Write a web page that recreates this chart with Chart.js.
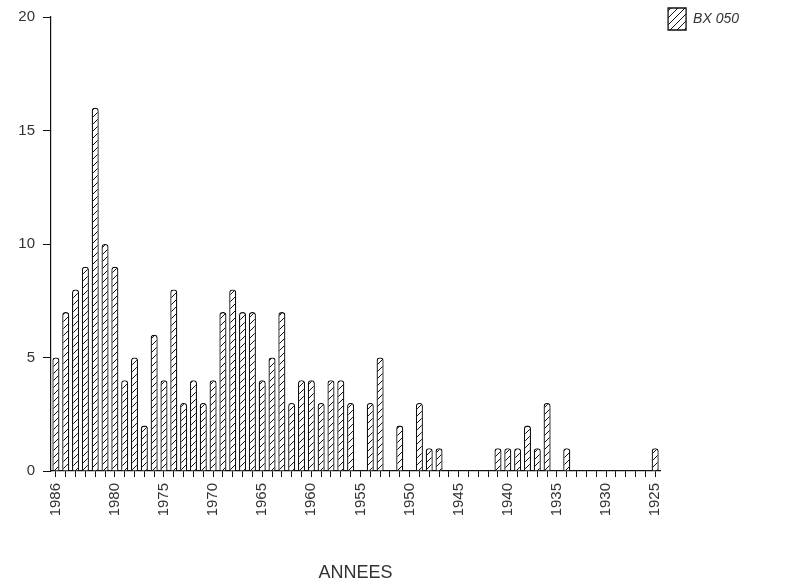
<!DOCTYPE html>
<html>
<head>
<meta charset="utf-8">
<script src="https://cdn.jsdelivr.net/npm/chart.js@4.4.1/dist/chart.umd.min.js"></script>
<style>
  html, body { margin: 0; padding: 0; background: #fff; }
  #wrap { width: 804px; height: 588px; }
</style>
</head>
<body>
<div id="wrap"><canvas id="c" width="804" height="588"></canvas></div>
<script>
// Years, most recent first (as in the original axis)
const years = ['1986','1985','1984','1983','1982','1981','1980','1979','1978','1977',
               '1976','1975','1974','1973','1972','1971','1970','1969','1968','1967',
               '1966','1965','1964','1963','1962','1961','1960','1959','1958','1957',
               '1956','1955','1954','1953','1952','1951','1950','1949','1948','1947',
               '1946','1945','1944','1943','1942','1941','1940','1939','1938','1937',
               '1936','1935','1934','1933','1932','1931','1930','1929','1928','1927',
               '1926','1925'];
const bx050 = [5,7,8,9,16,10,9,4,5,2,
               6,4,8,3,4,3,4,7,8,7,
               7,4,5,7,3,4,4,3,4,4,
               3,0,3,5,0,2,0,3,1,1,
               0,0,0,0,0,1,1,1,2,1,
               3,0,1,0,0,0,0,0,0,0,
               0,1];
const xTickLabels = ['1986','1980','1975','1970','1965','1960','1955','1950','1945','1940','1935','1930','1925'];
const yTicks = [0,5,10,15,20];
const seriesName = 'BX 050';
const axisTitle = 'ANNEES';

function hatch() {
  const s = 7;
  const p = document.createElement('canvas');
  p.width = s; p.height = s;
  const g = p.getContext('2d');
  g.fillStyle = '#ffffff';
  g.fillRect(0, 0, s, s);
  g.strokeStyle = '#111';
  g.lineWidth = 1;
  g.beginPath();
  g.moveTo(0, s); g.lineTo(s, 0);
  g.moveTo(-1, 1); g.lineTo(1, -1);
  g.moveTo(s - 1, s + 1); g.lineTo(s + 1, s - 1);
  g.stroke();
  return g.createPattern(p, 'repeat');
}
const pat = hatch();

const font = "'Liberation Sans', Arial, sans-serif";

// place the legend block at the very top of its (right-hand) column
const legendToTop = {
  id: 'legendToTop',
  afterLayout(chart) {
    const l = chart.legend;
    if (l) { const h = l.bottom - l.top; l.top = 0; l.bottom = h; }
  }
};

new Chart(document.getElementById('c'), {
  type: 'bar',
  data: {
    labels: years,
    datasets: [{
      label: seriesName,
      data: bx050,
      backgroundColor: pat,
      borderColor: '#111',
      borderWidth: 1.3,
      borderRadius: { topLeft: 3, topRight: 3, bottomLeft: 0, bottomRight: 0 },
      borderSkipped: 'bottom',
      categoryPercentage: 1.0,
      barPercentage: 0.72
    }]
  },
  plugins: [legendToTop],
  options: {
    responsive: false,
    animation: false,
    devicePixelRatio: 1,
    layout: { padding: { top: 13, right: 55, bottom: 0, left: 0 } },
    plugins: {
      tooltip: { enabled: false },
      legend: {
        position: 'right',
        align: 'start',
        labels: {
          boxWidth: 18,
          boxHeight: 22,
          padding: 8,
          color: '#333',
          font: { family: font, size: 14, style: 'italic' }
        }
      }
    },
    scales: {
      x: {
        offset: true,
        border: { display: true, color: '#111', width: 1.2 },
        grid: { display: true, drawOnChartArea: false, drawTicks: true, tickLength: 6, color: '#111', offset: false },
        ticks: {
          autoSkip: false,
          minRotation: 90,
          maxRotation: 90,
          padding: 6,
          color: '#333',
          font: { family: font, size: 15 },
          callback: function(val, i) { return xTickLabels.includes(years[i]) ? years[i] : ''; }
        },
        title: {
          display: true,
          text: axisTitle,
          color: '#333',
          font: { family: font, size: 18 },
          padding: { top: 4, bottom: 4 }
        },
        afterFit: function(s) { s.height = 117; }
      },
      y: {
        min: 0,
        max: 20,
        border: { display: true, color: '#111', width: 1.2 },
        grid: { display: true, drawOnChartArea: false, drawTicks: true, tickLength: 8, color: '#111' },
        afterBuildTicks: function(s) { s.ticks = yTicks.map(v => ({ value: v })); },
        ticks: {
          padding: 8,
          color: '#333',
          font: { family: font, size: 15 }
        },
        afterFit: function(s) { s.width = 51; }
      }
    }
  }
});
</script>
</body>
</html>
